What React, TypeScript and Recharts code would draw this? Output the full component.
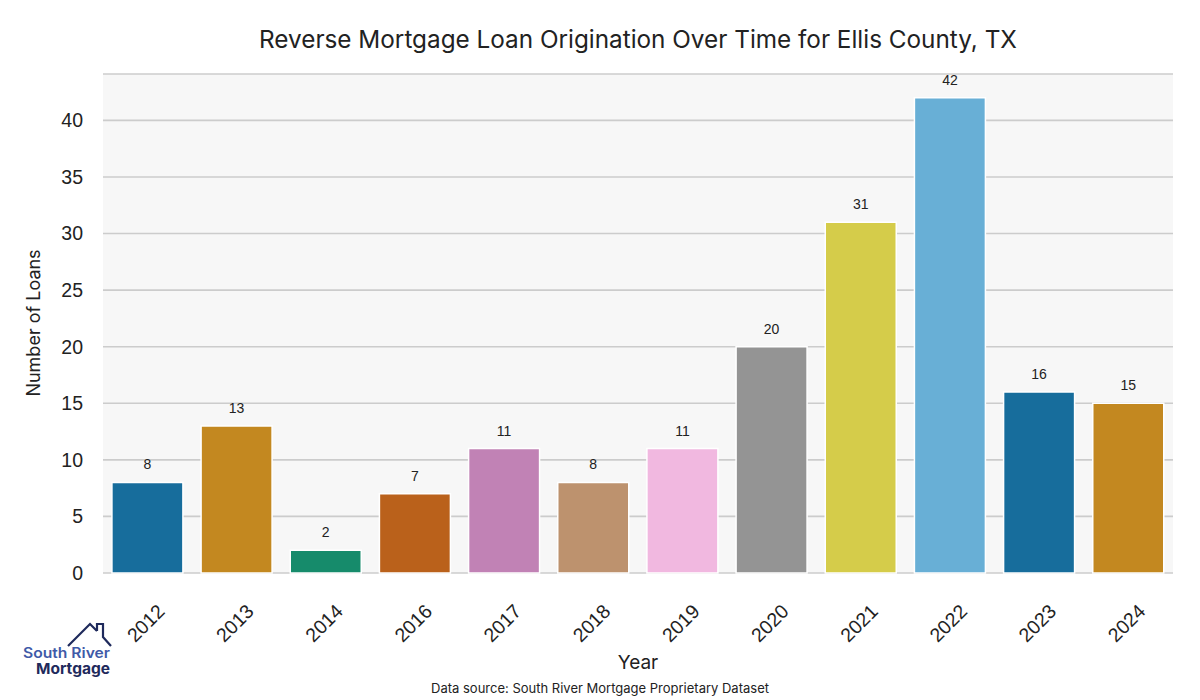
import React from "react";
import { BarChart, Bar, XAxis, YAxis, CartesianGrid, Cell, LabelList } from "recharts";

const years = ["2012", "2013", "2014", "2016", "2017", "2018", "2019", "2020", "2021", "2022", "2023", "2024"];
const loans = [8, 13, 2, 7, 11, 8, 11, 20, 31, 42, 16, 15];
const colors = ["#176d9c", "#c38820", "#168b6b", "#ba611b", "#c182b5", "#bd926e", "#f1b8e0", "#949494", "#d5cc4a", "#68afd6", "#176d9c", "#c38820"];
const yTicks = [0, 5, 10, 15, 20, 25, 30, 35, 40];

const data = years.map((y, i) => ({ year: y, loans: loans[i] }));

const TICK_FONT = "'Liberation Sans', Arial, sans-serif";
const LABEL_FONT = "Inter, 'Noto Sans', sans-serif";

const XTick = (props: any) => {
  const { x, y, payload } = props;
  const cx = x - 2;
  const cy = y + 42;
  return (
    <text
      x={cx}
      y={cy}
      textAnchor="middle"
      dominantBaseline="central"
      transform={`rotate(-45, ${cx}, ${cy})`}
      fontSize={19.5}
      fontFamily={TICK_FONT}
      fill="#222"
    >
      {payload.value}
    </text>
  );
};

export default function App() {
  return (
    <div style={{ position: "absolute", left: 0, top: 0, width: 1200, height: 700, background: "#fff" }}>
      <BarChart
        width={1200}
        height={700}
        data={data}
        margin={{ top: 74, right: 27, bottom: 0, left: 23 }}
        barCategoryGap="10%"
      >
        <CartesianGrid horizontal={true} vertical={false} fill="#f7f7f7" stroke="#cccccc" strokeWidth={1.6} />
        <XAxis
          dataKey="year"
          height={127}
          axisLine={false}
          tickLine={false}
          tick={<XTick />}
          interval={0}
        />
        <YAxis
          width={80}
          domain={[0, 44.1]}
          ticks={yTicks}
          axisLine={false}
          tickLine={false}
          tickSize={0}
          tickMargin={20}
          tick={{ fontSize: 19.5, fontFamily: TICK_FONT, fill: "#222" }}
        />
        <Bar dataKey="loans" isAnimationActive={false} stroke="#ffffff" strokeWidth={1.5}>
          {data.map((d, i) => (
            <Cell key={d.year} fill={colors[i]} />
          ))}
          <LabelList
            dataKey="loans"
            position="top"
            offset={13}
            fontSize={14}
            fontFamily={TICK_FONT}
            fill="#222"
          />
        </Bar>
      </BarChart>
      <svg
        width={1200}
        height={700}
        style={{ position: "absolute", left: 0, top: 0, pointerEvents: "none" }}
      >
        <text x={638} y={48} textAnchor="middle" fontSize={24.3} fontFamily={LABEL_FONT} fill="#222">
          Reverse Mortgage Loan Origination Over Time for Ellis County, TX
        </text>
        <text
          x={40}
          y={323}
          textAnchor="middle"
          fontSize={18}
          fontFamily={LABEL_FONT}
          fill="#222"
          transform="rotate(-90, 40, 323)"
        >
          Number of Loans
        </text>
        <text x={638} y={669} textAnchor="middle" fontSize={19} fontFamily={LABEL_FONT} fill="#222">
          Year
        </text>
        <text x={600} y={693} textAnchor="middle" fontSize={13} fontFamily={LABEL_FONT} fill="#222">
          Data source: South River Mortgage Proprietary Dataset
        </text>
        <g fill="none" stroke="#1f2a5c" strokeWidth={2.2} strokeLinejoin="miter">
          <path d="M68,646 L90,624 L97,631" />
          <path d="M97,631 L97,624 L103,624 L103,637 L111,646" />
        </g>
        <text x={23} y={658} fontSize={14} fontWeight={600} fontFamily={LABEL_FONT} fill="#3f5aa8" textLength={87} lengthAdjust="spacingAndGlyphs">
          South River
        </text>
        <text x={36} y={674} fontSize={15} fontWeight={700} fontFamily={LABEL_FONT} fill="#1f2a5c" textLength={74} lengthAdjust="spacingAndGlyphs">
          Mortgage
        </text>
      </svg>
    </div>
  );
}
